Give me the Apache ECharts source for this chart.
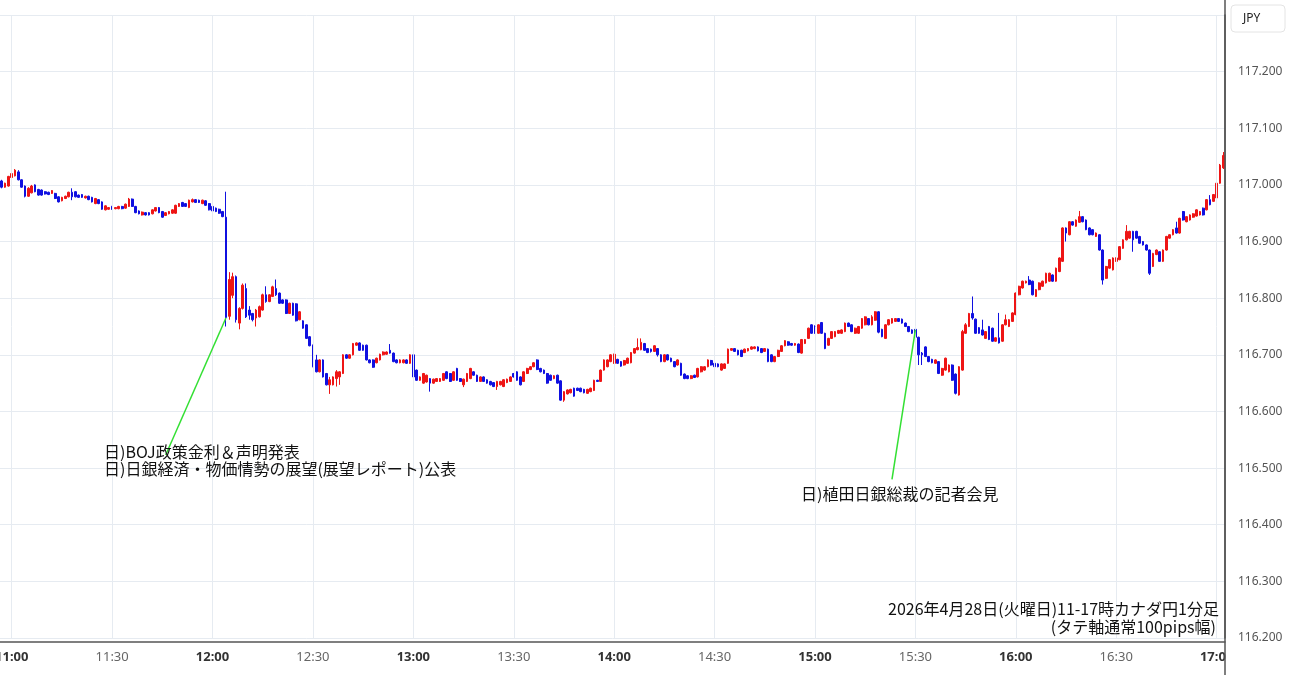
<!DOCTYPE html>
<html>
<head>
<meta charset="utf-8">
<script src="https://cdn.jsdelivr.net/npm/echarts@6/dist/echarts.min.js"></script>
<style>
html,body{margin:0;padding:0;background:#fff;}
#chart{width:1290px;height:675px;}
</style>
</head>
<body>
<div id="chart"></div>
<script>
// ---- Data: 1-minute CAD/JPY candles, [open, close, low, high] ----
const startTime = '10:57';
const c10 = [
[117.007,116.996,116.994,117.009],[116.996,117.003,116.995,117.004],[116.998,117.015,116.997,117.016]
];
const c11 = [
[117.013,117.020,117.012,117.022],[117.016,117.026,117.015,117.028],[117.023,117.009,117.008,117.026],[117.009,116.996,116.995,117.010],
[116.998,116.980,116.978,116.999],[116.980,116.994,116.979,116.996],[116.986,116.998,116.985,117.000],[117.000,116.988,116.987,117.001],
[116.992,116.982,116.981,116.993],[116.991,116.982,116.981,116.992],[116.988,116.984,116.983,116.989],[116.987,116.983,116.982,116.988],
[116.985,116.990,116.984,116.991],[116.985,116.976,116.975,116.986],[116.979,116.970,116.969,116.980],[116.972,116.978,116.971,116.979],
[116.976,116.980,116.975,116.981],[116.979,116.987,116.978,116.988],[116.987,116.979,116.973,116.994],[116.988,116.979,116.978,116.989],
[116.982,116.978,116.977,116.983],[116.983,116.978,116.977,116.984],[116.977,116.980,116.976,116.981],[116.980,116.974,116.973,116.981],
[116.978,116.970,116.969,116.979],[116.967,116.976,116.966,116.977],[116.974,116.967,116.966,116.975],[116.970,116.957,116.956,116.971],
[116.956,116.963,116.955,116.964],[116.957,116.960,116.956,116.961],[116.962,116.957,116.956,116.963],[116.958,116.960,116.957,116.961],
[116.958,116.962,116.957,116.963],[116.962,116.958,116.957,116.963],[116.959,116.966,116.958,116.967],[116.962,116.975,116.961,116.977],
[116.975,116.962,116.961,116.976],[116.962,116.951,116.950,116.963],[116.954,116.949,116.948,116.955],[116.947,116.952,116.946,116.953],
[116.951,116.947,116.946,116.952],[116.951,116.947,116.946,116.952],[116.949,116.956,116.948,116.957],[116.954,116.960,116.953,116.961],
[116.960,116.951,116.950,116.961],[116.953,116.943,116.942,116.954],[116.946,116.951,116.945,116.952],[116.949,116.953,116.948,116.954],
[116.950,116.956,116.949,116.957],[116.950,116.964,116.949,116.965],[116.962,116.967,116.961,116.968],[116.969,116.962,116.961,116.970],
[116.967,116.962,116.961,116.968],[116.960,116.973,116.959,116.974],[116.970,116.974,116.969,116.976],[116.974,116.969,116.968,116.975],
[116.973,116.969,116.968,116.974],[116.967,116.973,116.966,116.974],[116.972,116.964,116.963,116.973],[116.967,116.956,116.955,116.968]
];
const c12 = [
[116.962,116.954,116.953,116.963],[116.959,116.953,116.952,116.960],[116.957,116.950,116.949,116.958],[116.953,116.944,116.943,116.954],
[116.943,116.766,116.750,116.988],[116.768,116.833,116.762,116.846],[116.805,116.838,116.800,116.845],[116.838,116.762,116.757,116.840],
[116.756,116.782,116.745,116.784],[116.782,116.823,116.780,116.826],[116.817,116.767,116.765,116.826],[116.779,116.770,116.762,116.786],
[116.773,116.762,116.759,116.774],[116.765,116.779,116.750,116.781],[116.767,116.785,116.766,116.787],[116.779,116.806,116.778,116.808],
[116.806,116.794,116.792,116.821],[116.794,116.806,116.793,116.807],[116.803,116.820,116.802,116.822],[116.817,116.806,116.804,116.833],
[116.809,116.791,116.790,116.810],[116.797,116.791,116.790,116.798],[116.797,116.773,116.772,116.798],[116.773,116.791,116.772,116.792],
[116.791,116.770,116.769,116.792],[116.790,116.760,116.759,116.791],[116.762,116.776,116.761,116.777],[116.760,116.747,116.746,116.761],
[116.753,116.729,116.728,116.754],[116.732,116.716,116.715,116.733],[116.717,116.679,116.678,116.718],[116.691,116.670,116.669,116.700],
[116.670,116.691,116.669,116.692],[116.691,116.661,116.660,116.692],[116.667,116.647,116.646,116.668],[116.647,116.656,116.631,116.661],
[116.647,116.661,116.646,116.662],[116.658,116.670,116.644,116.673],[116.661,116.670,116.647,116.671],[116.667,116.700,116.666,116.701],
[116.700,116.694,116.693,116.701],[116.694,116.700,116.693,116.701],[116.700,116.720,116.699,116.721],[116.717,116.721,116.716,116.722],
[116.721,116.708,116.707,116.722],[116.717,116.708,116.707,116.718],[116.717,116.691,116.690,116.718],[116.691,116.686,116.685,116.692],
[116.691,116.678,116.677,116.692],[116.686,116.694,116.685,116.695],[116.691,116.701,116.690,116.702],[116.700,116.705,116.699,116.706],
[116.701,116.705,116.700,116.706],[116.708,116.703,116.702,116.719],[116.703,116.688,116.687,116.704],[116.691,116.686,116.685,116.692],
[116.686,116.691,116.685,116.692],[116.686,116.691,116.685,116.692],[116.691,116.685,116.684,116.692],[116.685,116.700,116.684,116.701]
];
const c13 = [
[116.700,116.661,116.660,116.701],[116.673,116.655,116.654,116.674],[116.655,116.661,116.654,116.662],[116.650,116.667,116.649,116.668],
[116.652,116.664,116.651,116.665],[116.658,116.650,116.635,116.659],[116.650,116.657,116.649,116.658],[116.653,116.658,116.652,116.659],
[116.653,116.658,116.652,116.659],[116.655,116.667,116.654,116.668],[116.670,116.658,116.657,116.671],[116.667,116.653,116.652,116.668],
[116.655,116.670,116.654,116.671],[116.676,116.655,116.654,116.677],[116.658,116.653,116.652,116.659],[116.647,116.657,116.643,116.658],
[116.653,116.667,116.652,116.668],[116.658,116.676,116.657,116.677],[116.670,116.664,116.663,116.671],[116.664,116.653,116.652,116.665],
[116.653,116.661,116.652,116.662],[116.661,116.653,116.652,116.662],[116.656,116.650,116.649,116.657],[116.653,116.647,116.646,116.654],
[116.651,116.644,116.643,116.652],[116.644,116.653,116.638,116.654],[116.647,116.653,116.646,116.654],[116.644,116.656,116.643,116.657],
[116.651,116.657,116.650,116.658],[116.653,116.661,116.652,116.662],[116.667,116.661,116.660,116.668],[116.670,116.655,116.654,116.671],
[116.661,116.647,116.646,116.662],[116.653,116.670,116.652,116.671],[116.667,116.676,116.666,116.677],[116.674,116.679,116.673,116.680],
[116.679,116.686,116.678,116.687],[116.691,116.674,116.673,116.692],[116.676,116.670,116.669,116.677],[116.673,116.667,116.666,116.674],
[116.667,116.650,116.649,116.668],[116.664,116.655,116.654,116.665],[116.658,116.663,116.657,116.664],[116.664,116.650,116.649,116.665],
[116.654,116.620,116.619,116.655],[116.620,116.635,116.617,116.636],[116.631,116.638,116.630,116.639],[116.633,116.639,116.632,116.640],
[116.641,116.627,116.626,116.642],[116.641,116.637,116.636,116.642],[116.641,116.635,116.634,116.642],[116.639,116.633,116.632,116.640],
[116.632,116.639,116.631,116.640],[116.635,116.641,116.634,116.642],[116.637,116.655,116.636,116.656],[116.655,116.653,116.652,116.656],
[116.653,116.673,116.652,116.674],[116.673,116.691,116.672,116.692],[116.679,116.691,116.678,116.692],[116.688,116.700,116.687,116.701]
];
const c14 = [
[116.685,116.701,116.684,116.702],[116.692,116.685,116.684,116.693],[116.688,116.680,116.679,116.689],[116.682,116.690,116.681,116.691],
[116.685,116.694,116.684,116.695],[116.686,116.704,116.685,116.705],[116.703,116.711,116.702,116.712],[116.709,116.713,116.708,116.729],
[116.709,116.722,116.708,116.729],[116.720,116.708,116.707,116.721],[116.711,116.704,116.703,116.712],[116.710,116.706,116.704,116.711],
[116.706,116.716,116.705,116.717],[116.711,116.700,116.697,116.712],[116.700,116.688,116.687,116.701],[116.688,116.700,116.687,116.701],
[116.700,116.691,116.690,116.701],[116.694,116.688,116.687,116.695],[116.688,116.679,116.678,116.689],[116.682,116.691,116.681,116.692],
[116.685,116.664,116.663,116.686],[116.666,116.658,116.657,116.667],[116.663,116.658,116.657,116.664],[116.658,116.663,116.657,116.664],
[116.664,116.660,116.659,116.665],[116.661,116.676,116.660,116.677],[116.670,116.679,116.669,116.680],[116.673,116.679,116.672,116.680],
[116.679,116.691,116.678,116.692],[116.690,116.682,116.681,116.691],[116.685,116.679,116.678,116.686],[116.684,116.679,116.678,116.685],
[116.673,116.684,116.672,116.685],[116.676,116.684,116.675,116.685],[116.685,116.710,116.684,116.711],[116.708,116.711,116.707,116.712],
[116.711,116.706,116.705,116.712],[116.708,116.700,116.699,116.709],[116.708,116.697,116.696,116.709],[116.704,116.710,116.703,116.711],
[116.707,116.711,116.706,116.712],[116.710,116.714,116.709,116.715],[116.711,116.714,116.710,116.715],[116.714,116.707,116.706,116.715],
[116.711,116.704,116.703,116.712],[116.706,116.711,116.705,116.712],[116.710,116.688,116.687,116.711],[116.700,116.688,116.687,116.701],
[116.688,116.697,116.687,116.698],[116.697,116.708,116.696,116.709],[116.706,116.716,116.705,116.717],[116.716,116.725,116.715,116.726],
[116.723,116.717,116.716,116.724],[116.720,116.717,116.716,116.721],[116.717,116.720,116.716,116.721],[116.719,116.704,116.703,116.720],
[116.703,116.727,116.702,116.728],[116.720,116.727,116.719,116.728],[116.729,116.747,116.728,116.748],[116.753,116.738,116.737,116.754]
];
const c15 = [
[116.751,116.738,116.737,116.752],[116.738,116.753,116.737,116.754],[116.757,116.738,116.737,116.758],[116.738,116.711,116.710,116.739],
[116.717,116.729,116.716,116.730],[116.729,116.741,116.728,116.742],[116.732,116.741,116.731,116.742],[116.738,116.743,116.737,116.744],
[116.738,116.744,116.737,116.745],[116.741,116.756,116.740,116.757],[116.756,116.750,116.749,116.757],[116.753,116.741,116.740,116.754],
[116.738,116.747,116.737,116.748],[116.738,116.750,116.737,116.751],[116.747,116.764,116.746,116.765],[116.753,116.767,116.752,116.768],
[116.764,116.753,116.752,116.765],[116.753,116.767,116.752,116.770],[116.761,116.776,116.760,116.777],[116.776,116.740,116.738,116.777],
[116.745,116.732,116.731,116.746],[116.729,116.753,116.728,116.754],[116.753,116.762,116.752,116.763],[116.756,116.764,116.755,116.765],
[116.759,116.764,116.758,116.765],[116.764,116.759,116.758,116.765],[116.763,116.756,116.755,116.764],[116.756,116.750,116.749,116.757],
[116.750,116.741,116.740,116.751],[116.744,116.738,116.737,116.745],[116.745,116.731,116.730,116.746],[116.731,116.700,116.682,116.732],
[116.703,116.700,116.682,116.705],[116.714,116.697,116.696,116.715],[116.697,116.688,116.687,116.698],[116.692,116.686,116.685,116.693],
[116.685,116.691,116.684,116.692],[116.688,116.667,116.666,116.689],[116.664,116.676,116.663,116.677],[116.673,116.694,116.672,116.695],
[116.670,116.682,116.669,116.683],[116.682,116.655,116.654,116.683],[116.666,116.632,116.630,116.667],[116.629,116.679,116.628,116.680],
[116.673,116.741,116.672,116.744],[116.738,116.753,116.737,116.756],[116.750,116.773,116.749,116.774],[116.773,116.765,116.762,116.803],
[116.763,116.738,116.737,116.764],[116.748,116.738,116.737,116.749],[116.744,116.735,116.734,116.762],[116.729,116.741,116.728,116.742],
[116.750,116.727,116.726,116.751],[116.747,116.724,116.723,116.748],[116.724,116.730,116.723,116.731],[116.730,116.721,116.720,116.774],
[116.724,116.753,116.723,116.754],[116.753,116.762,116.752,116.771],[116.750,116.762,116.749,116.763],[116.759,116.774,116.758,116.775]
];
const c16 = [
[116.771,116.809,116.770,116.810],[116.806,116.821,116.805,116.822],[116.818,116.830,116.817,116.831],[116.827,116.830,116.826,116.831],
[116.832,116.824,116.823,116.839],[116.830,116.806,116.805,116.831],[116.803,116.815,116.802,116.816],[116.815,116.827,116.814,116.828],
[116.821,116.830,116.820,116.831],[116.827,116.844,116.826,116.845],[116.830,116.844,116.829,116.845],[116.841,116.830,116.829,116.842],
[116.830,116.853,116.829,116.854],[116.847,116.871,116.846,116.872],[116.865,116.924,116.864,116.925],[116.924,116.915,116.900,116.925],
[116.912,116.935,116.911,116.936],[116.935,116.929,116.928,116.936],[116.927,116.938,116.926,116.939],[116.934,116.944,116.933,116.954],
[116.944,116.935,116.934,116.945],[116.938,116.921,116.920,116.939],[116.924,116.912,116.911,116.925],[116.921,116.912,116.911,116.922],
[116.909,116.915,116.908,116.916],[116.912,116.885,116.884,116.913],[116.885,116.832,116.824,116.886],[116.835,116.856,116.834,116.857],
[116.853,116.868,116.852,116.869],[116.850,116.871,116.849,116.872],[116.865,116.871,116.864,116.872],[116.868,116.891,116.867,116.892],
[116.888,116.903,116.887,116.904],[116.903,116.918,116.902,116.929],[116.906,116.918,116.905,116.919],[116.918,116.903,116.882,116.919],
[116.918,116.906,116.905,116.919],[116.909,116.897,116.896,116.910],[116.900,116.894,116.893,116.901],[116.894,116.885,116.884,116.895],
[116.885,116.844,116.841,116.886],[116.856,116.879,116.855,116.880],[116.877,116.885,116.876,116.886],[116.882,116.865,116.864,116.883],
[116.865,116.885,116.864,116.886],[116.885,116.909,116.884,116.910],[116.906,116.912,116.905,116.913],[116.912,116.921,116.911,116.922],
[116.924,116.915,116.914,116.935],[116.915,116.941,116.914,116.942],[116.953,116.938,116.937,116.954],[116.935,116.944,116.934,116.945],
[116.938,116.947,116.937,116.948],[116.943,116.949,116.942,116.950],[116.945,116.956,116.944,116.957],[116.947,116.953,116.946,116.954],
[116.959,116.947,116.946,116.960],[116.956,116.974,116.955,116.975],[116.974,116.965,116.964,116.982],[116.971,116.983,116.970,116.984]
];
const c17 = [
[116.977,117.003,116.976,117.005],[117.003,117.035,117.002,117.037],[117.030,117.052,117.028,117.058]
];
const gridTimes = ['11:00','11:30','12:00','12:30','13:00','13:30','14:00','14:30','15:00','15:30','16:00','16:30','17:00'];
const yTicks = {min: 116.2, max: 117.3, interval: 0.1};
const notes = [
  {from: ['11:46', 116.523], to: ['12:04', 116.765]},
  {from: ['15:23', 116.480], to: ['15:30', 116.744]}
];
const noteText1 = ['日)BOJ政策金利＆声明発表', '日)日銀経済・物価情勢の展望(展望レポート)公表'];
const noteText2 = '日)植田日銀総裁の記者会見';
const captionLines = ['2026年4月28日(火曜日)11-17時カナダ円1分足', '(タテ軸通常100pips幅)'];

// ---- build ----
const candles = [].concat(c10, c11, c12, c13, c14, c15, c16, c17);
const pad = n => (n < 10 ? '0' : '') + n;
const [sh, sm] = startTime.split(':').map(Number);
const times = candles.map((_, i) => {
  const t = sh * 60 + sm + i;
  return pad(Math.floor(t / 60)) + ':' + pad(t % 60);
});

const JP = '"Noto Sans CJK JP", "Noto Sans", sans-serif';
const chart = echarts.init(document.getElementById('chart'), null, {renderer: 'canvas'});
chart.setOption({
  animation: false,
  backgroundColor: '#ffffff',
  grid: {left: 0, right: 65, top: 15, bottom: 37, containLabel: false, outerBoundsMode: 'none'},
  xAxis: {
    type: 'category',
    data: times,
    boundaryGap: true,
    offset: 4,
    axisLine: {show: true, lineStyle: {color: '#555', width: 1.5}},
    axisTick: {show: false},
    splitLine: {show: false},
    axisLabel: {
      interval: (idx, v) => v.endsWith(':00') || v.endsWith(':30'),
      margin: 9,
      formatter: v => v.endsWith(':00') ? '{b|' + v + '}' : '{n|' + v + '}',
      rich: {
        b: {fontFamily: '"Noto Sans", sans-serif', fontSize: 13, fontWeight: 'bold', color: '#333'},
        n: {fontFamily: '"Noto Sans", sans-serif', fontSize: 13, color: '#666'}
      }
    }
  },
  yAxis: {
    type: 'value',
    position: 'right',
    min: yTicks.min, max: yTicks.max, interval: yTicks.interval,
    axisLine: {show: true, lineStyle: {color: '#555', width: 1.5}},
    axisTick: {show: false},
    splitLine: {show: true, lineStyle: {color: '#e6ebf1', width: 1}},
    axisLabel: {
      margin: 13,
      showMaxLabel: false,
      color: '#555',
      fontFamily: '"Noto Sans", sans-serif',
      fontSize: 12,
      formatter: v => v.toFixed(3)
    }
  },
  series: [
    {
      type: 'line',
      data: [],
      z: 1,
      silent: true,
      markLine: {
        silent: true,
        symbol: ['none', 'none'],
        animation: false,
        label: {show: false},
        lineStyle: {color: '#e6ebf1', width: 1, type: 'solid'},
        data: gridTimes.map(t => ({xAxis: t}))
      }
    },
    {
      type: 'candlestick',
      data: candles,
      z: 3,
      barWidth: 2.2,
      itemStyle: {
        color: '#ee1515', color0: '#1010e0',
        borderColor: '#ee1515', borderColor0: '#1010e0',
        borderWidth: 1
      },
      markLine: {
        silent: true,
        symbol: ['none', 'none'],
        animation: false,
        label: {show: false},
        lineStyle: {color: '#33e033', width: 1.5, type: 'solid'},
        data: notes.map(n => [{coord: n.from}, {coord: n.to}])
      }
    }
  ],
  graphic: [
    {type: 'rect', silent: true, z: 49, shape: {x: 1226, y: 644, width: 64, height: 31}, style: {fill: '#fff'}},
    {type: 'line', silent: true, z: 50, shape: {x1: 1225, y1: 0, x2: 1225, y2: 675}, style: {stroke: '#555', lineWidth: 1.5}},
    {type: 'rect', silent: true, z: 50, shape: {x: 1231, y: 5, width: 54, height: 27, r: 4}, style: {fill: '#fff', stroke: '#e4e4e4', lineWidth: 1}},
    {type: 'text', silent: true, z: 51, style: {x: 1243, y: 18.5, text: 'JPY', fill: '#222', font: '12px "Noto Sans", sans-serif', textVerticalAlign: 'middle'}},
    {type: 'text', silent: true, z: 51, style: {x: 104, y: 452, text: noteText1[0], fill: '#111', font: '16px ' + JP, textVerticalAlign: 'middle'}},
    {type: 'text', silent: true, z: 51, style: {x: 104, y: 469, text: noteText1[1], fill: '#111', font: '16px ' + JP, textVerticalAlign: 'middle'}},
    {type: 'text', silent: true, z: 51, style: {x: 801, y: 494, text: noteText2, fill: '#111', font: '16px ' + JP, textVerticalAlign: 'middle'}},
    {type: 'text', silent: true, z: 51, style: {x: 1219, y: 609, text: captionLines[0], fill: '#111', font: '16px ' + JP, textAlign: 'right', textVerticalAlign: 'middle'}},
    {type: 'text', silent: true, z: 51, style: {x: 1216, y: 627, text: captionLines[1], fill: '#111', font: '16px ' + JP, textAlign: 'right', textVerticalAlign: 'middle'}}
  ]
});
</script>
</body>
</html>
